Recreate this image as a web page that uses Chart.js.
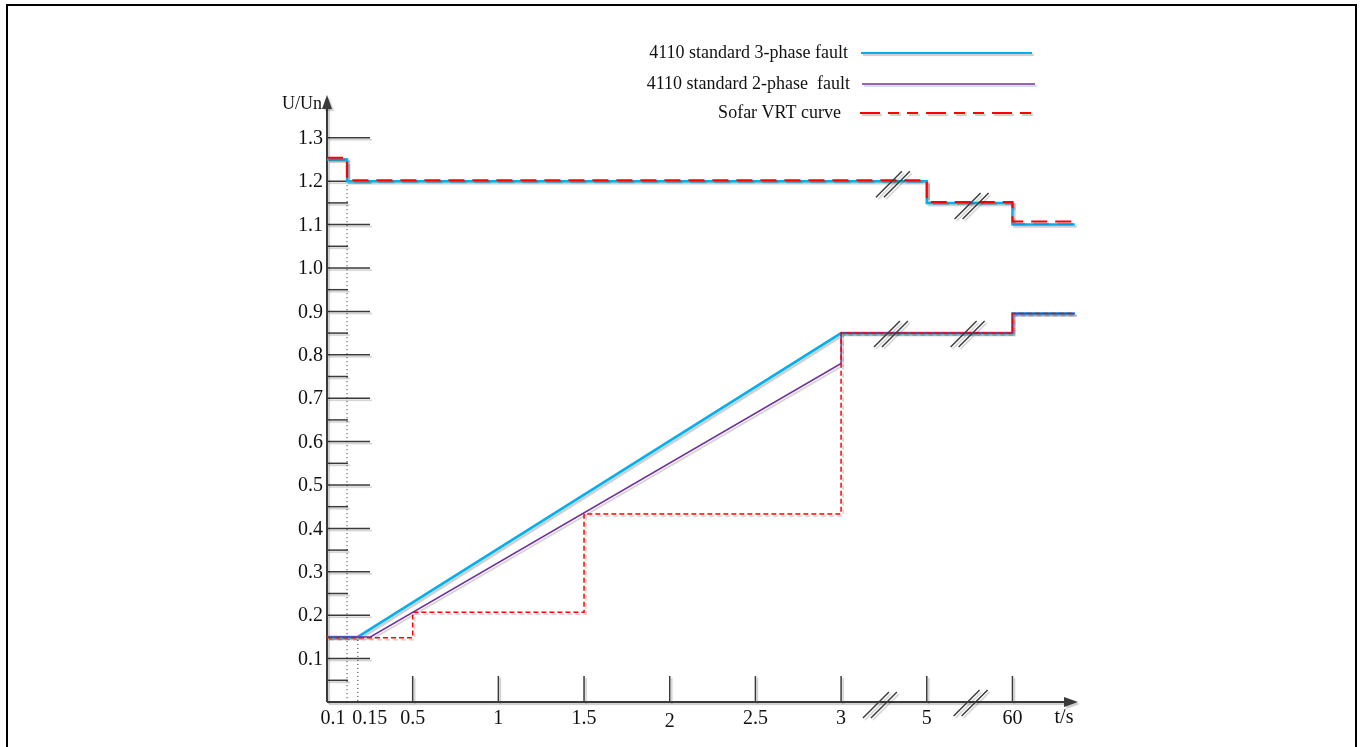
<!DOCTYPE html>
<html>
<head>
<meta charset="utf-8">
<title>VRT curve</title>
<script src="https://cdn.jsdelivr.net/npm/chart.js@4.4.1/dist/chart.umd.min.js"></script>
<style>
  html, body { margin: 0; padding: 0; background: #fff; }
  #wrap { position: relative; width: 1360px; height: 747px; overflow: hidden; }
  #frame {
    position: absolute; left: 6px; top: 4px; width: 1347px; height: 800px;
    border: 2px solid #000; border-bottom: none; pointer-events: none;
  }
</style>
</head>
<body>
<div id="wrap">
  <canvas id="vrtChart" width="1360" height="747"></canvas>
  <div id="frame"></div>
</div>
<script>
// ---- data (time in s, voltage in p.u.) ----
const T3_HIGH = [0, 0.1, 0.1, 5, 5, 60, 60, 100];
const U3_HIGH = [1.25, 1.25, 1.2, 1.2, 1.15, 1.15, 1.1, 1.1];
const T3_LOW  = [0, 0.15, 3, 60, 60, 100];
const U3_LOW  = [0.15, 0.15, 0.85, 0.85, 0.895, 0.895];

const T2_LOW  = [0, 0.23, 3, 3, 60, 60, 100];
const U2_LOW  = [0.15, 0.15, 0.78, 0.85, 0.85, 0.895, 0.895];

const TS_HIGH = [0, 0.1, 0.1, 5, 5, 60, 60, 100];
const US_HIGH = [1.254, 1.254, 1.202, 1.202, 1.152, 1.152, 1.107, 1.107];
const TS_LOW  = [0, 0.5, 0.5, 1.5, 1.5, 3, 3, 60, 60, 100];
const US_LOW  = [0.148, 0.148, 0.207, 0.207, 0.433, 0.433, 0.85, 0.85, 0.895, 0.895];

const X_TICKS       = [0.1, 0.15, 0.5, 1, 1.5, 2, 2.5, 3, 5, 60];
const X_TICK_LABELS = ['0.1', '0.15', '0.5', '1', '1.5', '2', '2.5', '3', '5', '60'];
const Y_TICKS       = [0.1, 0.2, 0.3, 0.4, 0.5, 0.6, 0.7, 0.8, 0.9, 1.0, 1.1, 1.2, 1.3];
const Y_TICK_LABELS = ['0.1', '0.2', '0.3', '0.4', '0.5', '0.6', '0.7', '0.8', '0.9', '1.0', '1.1', '1.2', '1.3'];
const Y_MINOR       = [0.05, 0.15, 0.25, 0.35, 0.45, 0.55, 0.65, 0.75, 0.85, 0.95, 1.05, 1.15, 1.25];

const LEGEND_LABELS = ['4110 standard 3-phase fault', '4110 standard 2-phase  fault', 'Sofar VRT curve'];

// broken time axis: seconds -> axis position
const AXIS_T = [0, 0.1, 0.15, 0.5, 3, 5, 60];
const AXIS_P = [0, 0.117, 0.18, 0.5, 3, 3.5, 4.0];

function axisPos(t) {
    for (let i = 1; i < AXIS_T.length; i++) {
        if (t <= AXIS_T[i] || i === AXIS_T.length - 1) {
            const f = (t - AXIS_T[i - 1]) / (AXIS_T[i] - AXIS_T[i - 1]);
            return AXIS_P[i - 1] + f * (AXIS_P[i] - AXIS_P[i - 1]);
        }
    }
    return 0;
}

const toPts = (ts, us) => ts.map((t, i) => ({ x: axisPos(t), y: us[i] }));

const BLUE   = '#00b0f0';
const PURPLE = '#7030a0';
const RED    = '#ff0000';
const INK    = '#3a3a3a';
const SERIF  = '"Liberation Serif", "Times New Roman", serif';

function shadowOn(ctx) {
    ctx.shadowColor = 'rgba(0,0,0,0.2)';
    ctx.shadowOffsetX = 2;
    ctx.shadowOffsetY = 2;
    ctx.shadowBlur = 1;
}

function line(ctx, x1, y1, x2, y2) {
    ctx.beginPath();
    ctx.moveTo(x1, y1);
    ctx.lineTo(x2, y2);
    ctx.stroke();
}

function breakMark(ctx, cx, cy) {
    ctx.save();
    shadowOn(ctx);
    ctx.strokeStyle = INK;
    ctx.lineWidth = 1.4;
    [-4, 4].forEach(k => line(ctx, cx + k - 13, cy + 13, cx + k + 13, cy - 13));
    ctx.restore();
}

const vrtAxes = {
    id: 'vrtAxes',
    beforeDatasetsDraw(chart) {
        const ctx = chart.ctx;
        const xs = chart.scales.x, ys = chart.scales.y;
        const x0 = xs.getPixelForValue(0), y0 = ys.getPixelForValue(0);

        ctx.save();
        shadowOn(ctx);
        ctx.strokeStyle = INK;
        ctx.fillStyle = INK;

        // y ticks
        ctx.lineWidth = 1.5;
        Y_TICKS.forEach(v => line(ctx, x0, ys.getPixelForValue(v), x0 + 43, ys.getPixelForValue(v)));
        Y_MINOR.forEach(v => line(ctx, x0, ys.getPixelForValue(v), x0 + 21, ys.getPixelForValue(v)));

        // x ticks (not at 0.1 / 0.15, those get dotted guides)
        X_TICKS.forEach(t => {
            if (t < 0.5) return;
            const px = xs.getPixelForValue(axisPos(t));
            line(ctx, px, y0, px, y0 - 26);
        });

        // axes + arrows
        ctx.lineWidth = 2;
        line(ctx, x0, y0, x0, 104);
        line(ctx, x0, y0, 1068, y0);
        ctx.beginPath();
        ctx.moveTo(x0, 95); ctx.lineTo(x0 - 5, 109); ctx.lineTo(x0 + 5, 109); ctx.closePath();
        ctx.fill();
        ctx.beginPath();
        ctx.moveTo(1078, y0); ctx.lineTo(1064, y0 - 5); ctx.lineTo(1064, y0 + 5); ctx.closePath();
        ctx.fill();
        ctx.restore();

        // dotted guides
        ctx.save();
        ctx.strokeStyle = '#222';
        ctx.lineWidth = 1;
        ctx.setLineDash([1, 3]);
        const g1 = xs.getPixelForValue(axisPos(0.1));
        const g2 = xs.getPixelForValue(axisPos(0.15));
        line(ctx, g1, ys.getPixelForValue(1.2) + 4, g1, y0);
        line(ctx, g2, ys.getPixelForValue(0.15) + 3, g2, y0);
        ctx.restore();

        // labels
        ctx.save();
        ctx.fillStyle = '#111';
        ctx.font = '20px ' + SERIF;
        ctx.textAlign = 'right';
        ctx.textBaseline = 'middle';
        Y_TICKS.forEach((v, i) => ctx.fillText(Y_TICK_LABELS[i], x0 - 4, ys.getPixelForValue(v) + 1));
        ctx.textAlign = 'center';
        X_TICKS.forEach((t, i) => {
            let px = xs.getPixelForValue(axisPos(t));
            if (t === 0.1) px -= 14;
            if (t === 0.15) px += 12;
            ctx.fillText(X_TICK_LABELS[i], px, y0 + 17 + (t === 2 ? 3 : 0));
        });
        ctx.fillText('t/s', 1064, y0 + 16);
        ctx.font = '18px ' + SERIF;
        ctx.textAlign = 'right';
        ctx.fillText('U/Un', x0 - 5, 104);
        ctx.restore();

        // shadow for the curves
        ctx.save();
        shadowOn(ctx);
    },
    afterDatasetsDraw(chart) {
        const ctx = chart.ctx;
        ctx.restore();
        const xs = chart.scales.x, ys = chart.scales.y;
        const p3 = xs.getPixelForValue(axisPos(3));
        const p5 = xs.getPixelForValue(axisPos(5));
        const p60 = xs.getPixelForValue(axisPos(60));
        const m1 = (p3 + p5) / 2, m2 = (p5 + p60) / 2;

        breakMark(ctx, m1 - 4, ys.getPixelForValue(0) + 3);
        breakMark(ctx, m2 + 1, ys.getPixelForValue(0) + 1);
        breakMark(ctx, m1 + 9, ys.getPixelForValue(1.2) + 3);
        breakMark(ctx, m2 + 2, ys.getPixelForValue(1.15) + 3);
        breakMark(ctx, m1 + 7, ys.getPixelForValue(0.85) + 1);
        breakMark(ctx, m2 - 2, ys.getPixelForValue(0.85) + 1);

        // legend
        const rows = [
            { y: 53,  tx: 848, x1: 861, x2: 1032, color: BLUE,   w: 2,   dash: [] },
            { y: 84,  tx: 850, x1: 862, x2: 1035, color: PURPLE, w: 1.5, dash: [] },
            { y: 113, tx: 841, x1: 860, x2: 1032, color: RED,    w: 2,   dash: [20, 8, 11, 8, 11, 8] },
        ];
        ctx.save();
        ctx.font = '18px ' + SERIF;
        ctx.textAlign = 'right';
        ctx.textBaseline = 'middle';
        rows.forEach((r, i) => {
            ctx.fillStyle = '#111';
            ctx.fillText(LEGEND_LABELS[i], r.tx, r.y);
            ctx.save();
            shadowOn(ctx);
            ctx.strokeStyle = r.color;
            ctx.lineWidth = r.w;
            ctx.setLineDash(r.dash);
            line(ctx, r.x1, r.y, r.x2, r.y);
            ctx.restore();
        });
        ctx.restore();
    }
};

const lineDs = (pts, color, width, dash, order) => ({
    data: pts,
    borderColor: color,
    borderWidth: width,
    borderDash: dash,
    pointRadius: 0,
    tension: 0,
    fill: false,
    order: order,
    clip: false,
});

new Chart(document.getElementById('vrtChart'), {
    type: 'line',
    data: {
        datasets: [
            lineDs(toPts(TS_HIGH, US_HIGH), RED, 2, [16, 8], 0),
            lineDs(toPts(TS_LOW, US_LOW), RED, 1.5, [5, 3], 0),
            lineDs(toPts(T2_LOW, U2_LOW), PURPLE, 1.5, [], 1),
            lineDs(toPts(T3_HIGH, U3_HIGH), BLUE, 2.5, [], 2),
            lineDs(toPts(T3_LOW, U3_LOW), BLUE, 2.5, [], 2),
        ]
    },
    options: {
        responsive: false,
        animation: false,
        layout: { padding: { left: 327, right: 279, top: 94.4, bottom: 45 } },
        scales: {
            x: { type: 'linear', min: 0, max: 4.4, display: false },
            y: { type: 'linear', min: 0, max: 1.4, display: false },
        },
        plugins: {
            legend: { display: false },
            tooltip: { enabled: false },
        },
    },
    plugins: [vrtAxes],
});
</script>
</body>
</html>
